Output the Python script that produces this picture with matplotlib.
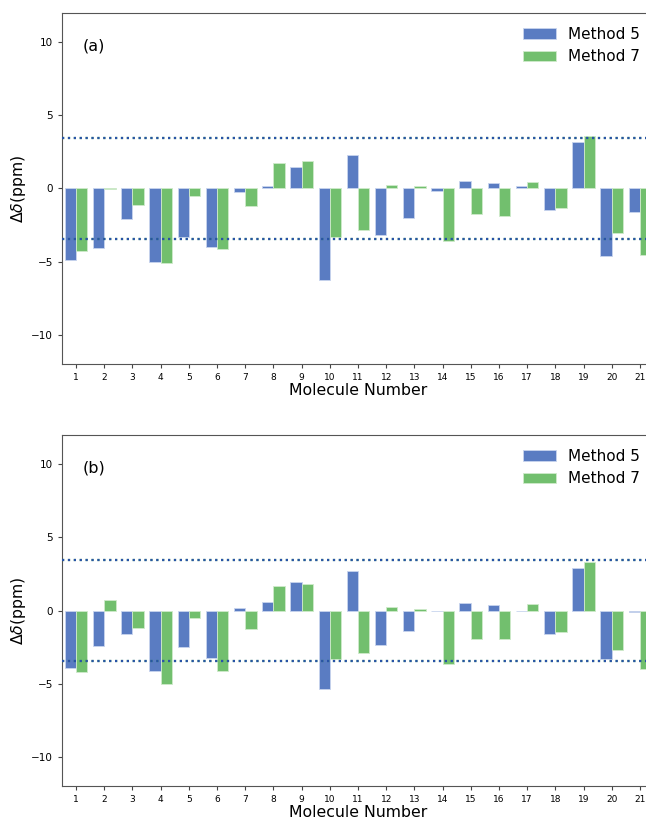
import matplotlib
matplotlib.use("Agg")
import matplotlib.pyplot as plt
import numpy as np

# Molecule numbers and chemical shift errors (ppm)
molecules = list(range(1, 22))

# panel (a)
a_method5 = [-4.9, -4.1, -2.1, -5.05, -3.3, -4.0, -0.27, 0.16, 1.48, -6.25, 2.32,
             -3.2, -2.0, -0.2, 0.5, 0.39, 0.2, -1.48, 3.16, -4.62, -1.6]
a_method7 = [-4.3, -0.05, -1.15, -5.1, -0.5, -4.15, -1.2, 1.75, 1.87, -3.3, -2.85,
             0.27, 0.14, -3.6, -1.77, -1.85, 0.45, -1.3, 3.57, -3.07, -4.55]

# panel (b)
b_method5 = [-3.96, -2.41, -1.62, -4.16, -2.48, -3.28, 0.14, 0.57, 1.93, -5.4, 2.73,
             -2.37, -1.41, -0.05, 0.52, 0.41, -0.05, -1.64, 2.89, -3.32, -0.11]
b_method7 = [-4.23, 0.7, -1.2, -5.05, -0.5, -4.14, -1.25, 1.68, 1.8, -3.3, -2.91,
             0.27, 0.09, -3.66, -1.93, -1.96, 0.43, -1.48, 3.32, -2.68, -4.03]

threshold = 3.43
panel_labels = ["(a)", "(b)"]

blue = "#5a7cc2"
green = "#72bf6e"

fig = plt.figure(figsize=(6.46, 8.22), dpi=100)
W, H = 646, 822

# axes run a bit past the right edge of the picture, as in the reference
ax_a = fig.add_axes([62 / W, 1 - 364 / H, 592 / W, 351 / H])
ax_b = fig.add_axes([62 / W, 1 - 786 / H, 592 / W, 351 / H])

x = np.array(molecules)
width = 0.4

for ax, m5, m7, lab in [(ax_a, a_method5, a_method7, panel_labels[0]),
                        (ax_b, b_method5, b_method7, panel_labels[1])]:
    ax.bar(x - width / 2, m5, width, color=blue, edgecolor="#c8d4ee",
           linewidth=0.6, label="Method 5")
    ax.bar(x + width / 2, m7, width, color=green, edgecolor="#cfeacb",
           linewidth=0.6, label="Method 7")
    for y in (threshold, -threshold):
        ax.axhline(y, color="#3cae3c", ls=":", lw=1.6, zorder=3)
        ax.axhline(y, color="#2233cc", ls=":", lw=1.6, zorder=3, alpha=0.75)
    ax.set_xlim(0.5, 21.5)
    ax.set_ylim(-12, 12)
    ax.set_xticks(x)
    ax.set_yticks([-10, -5, 0, 5, 10])
    ax.tick_params(axis="x", labelsize=6.5, length=3, color="#444444")
    ax.tick_params(axis="y", labelsize=7.5, length=3, color="#444444")
    for s in ax.spines.values():
        s.set_color("#555555")
    ax.set_xlabel("Molecule Number", fontsize=11.3, labelpad=1)
    ax.set_ylabel(r"$\Delta\delta$(ppm)", fontsize=11.3, labelpad=2)
    ax.text(0.034, 0.905, lab, transform=ax.transAxes, fontsize=11.5,
            va="center", ha="left")
    ax.legend(loc="upper right", frameon=False, fontsize=11,
              handlelength=2.2, borderaxespad=0.5)

fig.savefig("out.png", dpi=100)
